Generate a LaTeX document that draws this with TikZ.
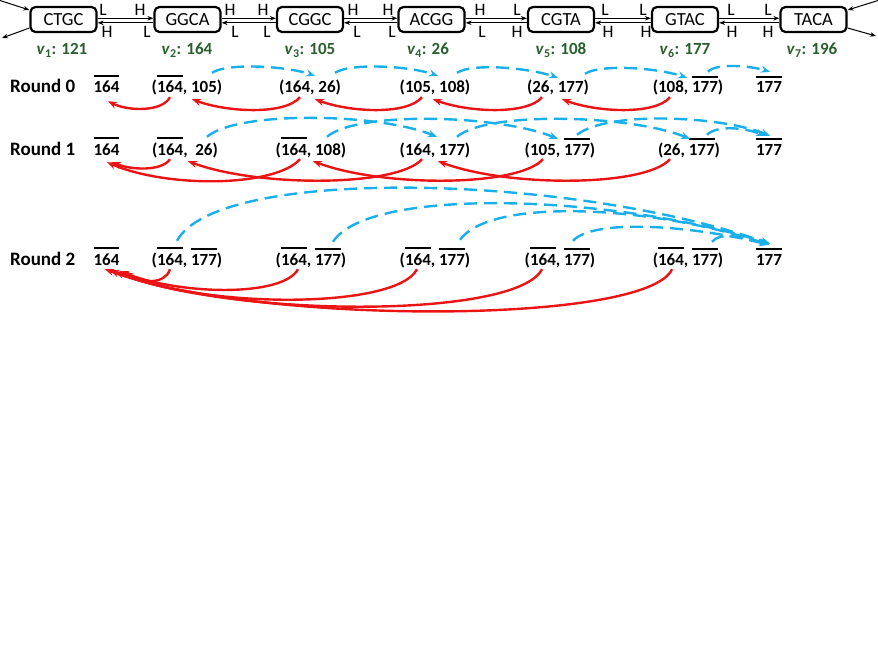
\documentclass[tikz,border=0pt]{standalone}
\usepackage{fontspec}
\setmainfont{Carlito}
\usetikzlibrary{arrows.meta,calc}
\definecolor{arrred}{RGB}{235,20,20}
\definecolor{arrblue}{RGB}{25,175,235}
\definecolor{vgreen}{RGB}{40,95,45}
\newcommand{\ovl}[1]{\leavevmode\setbox0=\hbox{#1}\rlap{\raisebox{\dimexpr\ht0+4.3pt\relax}{\rule{\wd0}{1.9pt}}}\box0}
\begin{document}
\begin{tikzpicture}[x=1pt,y=-1pt,
  seqbox/.style={draw, line width=2.2pt, rounded corners=5pt, minimum width=66pt, minimum height=25pt, inner sep=0pt, font=\fontsize{18.5}{20}\selectfont},
  hl/.style={font=\fontsize{17.5}{19}\selectfont, inner sep=0pt, anchor=base},
  vlab/.style={font=\fontsize{17}{18}\selectfont\bfseries, text=vgreen, anchor=base, inner sep=0pt},
  roundlab/.style={font=\fontsize{19}{21}\selectfont\bfseries, anchor=base west, inner sep=0pt},
  val/.style={font=\fontsize{17}{19}\selectfont\bfseries, anchor=base, inner sep=0pt, text height=18pt, text depth=4pt},
  link/.style={line width=1pt, -{Stealth[length=6pt,width=4.5pt]}},
  redarr/.style={draw=arrred, line width=2.4pt, -{Stealth[length=9pt,width=7pt]}},
  bluearr/.style={draw=arrblue, line width=2.4pt, dash pattern=on 13pt off 7pt, -{Stealth[length=9pt,width=7pt]}}]
\useasboundingbox (0,0) rectangle (878,658);

% sequence boxes
\node[seqbox] (b1) at (63.5,19.5) {CTGC};
\node[seqbox] (b2) at (187.5,19.5) {GGCA};
\node[seqbox] (b3) at (310,19.5) {CGGC};
\node[seqbox] (b4) at (431.5,19.5) {ACGG};
\node[seqbox] (b5) at (561,19.5) {CGTA};
\node[seqbox] (b6) at (685,19.5) {GTAC};
\node[seqbox] (b7) at (813.5,19.5) {TACA};

% links between boxes
\foreach \a/\b in {b1/b2,b2/b3,b3/b4,b4/b5,b5/b6,b6/b7}{
  \draw[link] ($(\a.east)+(0,-1.2)$) -- ($(\b.west)+(0,-1.2)$);
  \draw[link] ($(\b.west)+(0,3.3)$) -- ($(\a.east)+(0,3.3)$);
}
% outer arrows
\coordinate (inTL) at (0,0.5);
\coordinate (outBL) at (2,38);
\coordinate (inTR) at (878,0.5);
\coordinate (outBR) at (876,36);
\draw[link] (inTL) -- ($(b1.west)+(0,-9.5)$);
\draw[link] ($(b1.west)+(0,8.5)$) -- (outBL);
\draw[link] (inTR) -- ($(b7.east)+(0,-9.5)$);
\draw[link] ($(b7.east)+(0,8.5)$) -- (outBR);

% H/L labels
\node[hl] (l1a) at (103,16) {L};   \node[hl] (l1b) at (140,16) {H};
\node[hl] (l1c) at (107,38) {H};   \node[hl] (l1d) at (147,38) {L};
\node[hl] (l2a) at (230,16) {H};   \node[hl] (l2b) at (263,16) {H};
\node[hl] (l2c) at (235,38) {L};   \node[hl] (l2d) at (267,38) {L};
\node[hl] (l3a) at (353,16) {H};   \node[hl] (l3b) at (388,16) {H};
\node[hl] (l3c) at (357,38) {L};   \node[hl] (l3d) at (392,38) {L};
\node[hl] (l4a) at (480,16) {H};   \node[hl] (l4b) at (517,16) {L};
\node[hl] (l4c) at (482,38) {L};   \node[hl] (l4d) at (517,38) {H};
\node[hl] (l5a) at (605,16) {L};   \node[hl] (l5b) at (643,16) {L};
\node[hl] (l5c) at (608,38) {H};   \node[hl] (l5d) at (646,38) {H};
\node[hl] (l6a) at (731,16) {L};   \node[hl] (l6b) at (768,16) {L};
\node[hl] (l6c) at (732,38) {H};   \node[hl] (l6d) at (768,38) {H};

% vertex labels
\node[vlab] (v1) at (62,55) {\textit{v}\textsubscript{1}: 121};
\node[vlab] (v2) at (187,55) {\textit{v}\textsubscript{2}: 164};
\node[vlab] (v3) at (310,55) {\textit{v}\textsubscript{3}: 105};
\node[vlab] (v4) at (428,55) {\textit{v}\textsubscript{4}: 26};
\node[vlab] (v5) at (561,55) {\textit{v}\textsubscript{5}: 108};
\node[vlab] (v6) at (685,55) {\textit{v}\textsubscript{6}: 177};
\node[vlab] (v7) at (812,55) {\textit{v}\textsubscript{7}: 196};

% round labels
\node[roundlab] (rl0) at (10,93) {Round 0};
\node[roundlab] (rl1) at (10,155) {Round 1};
\node[roundlab] (rl2) at (10,265) {Round 2};

% Round 0 values
\node[val] (a1) at (106.5,93) {\ovl{164}};
\node[val] (a2) at (187,93) {(\ovl{164}, 105)};
\node[val] (a3) at (310,93) {(164, 26)};
\node[val] (a4) at (435,93) {(105, 108)};
\node[val] (a5) at (558,93) {(26, 177)};
\node[val] (a6) at (688,93) {(108, \ovl{177})};
\node[val] (a7) at (769,93) {\ovl{177}};

% Round 1 values
\node[val] (p1) at (106.5,155) {\ovl{164}};
\node[val] (p2) at (185,155) {(\ovl{164},~~26)};
\node[val] (p3) at (311,155) {(\ovl{164}, 108)};
\node[val] (p4) at (435,155) {(164, 177)};
\node[val] (p5) at (560,155) {(105, \ovl{177})};
\node[val] (p6) at (689,155) {(26, \ovl{177})};
\node[val] (p7) at (769,155) {\ovl{177}};

% Round 2 values
\node[val] (q1) at (106.5,265) {\ovl{164}};
\node[val] (q2) at (187,265) {(\ovl{164}, \ovl{177})};
\node[val] (q3) at (311,265) {(\ovl{164}, \ovl{177})};
\node[val] (q4) at (435,265) {(\ovl{164}, \ovl{177})};
\node[val] (q5) at (560,265) {(\ovl{164}, \ovl{177})};
\node[val] (q6) at (688,265) {(\ovl{164}, \ovl{177})};
\node[val] (q7) at (769,265) {\ovl{177}};

% Round 0 arrows
\draw[redarr] ($(a2.south)+(-17,0)$) .. controls +(-8,15) and +(20,10) .. ($(a1.south)+(1.5,4)$);
\draw[redarr] ($(a3.south)+(-10,0)$) .. controls +(-15,18) and +(35,13) .. ($(a2.south)+(5,2)$);
\draw[redarr] ($(a4.south)+(-13,0)$) .. controls +(-15,18) and +(35,13) .. ($(a3.south)+(5,2)$);
\draw[redarr] ($(a5.south)+(-16,0)$) .. controls +(-15,18) and +(35,13) .. ($(a4.south)+(-2,2)$);
\draw[redarr] ($(a6.south)+(-18,0)$) .. controls +(-15,18) and +(35,13) .. ($(a5.south)+(4,2)$);
\draw[bluearr] ($(a2.north)+(25,-2)$) .. controls +(15,-10) and +(-30,-10) .. ($(a3.north)+(5,1)$);
\draw[bluearr] ($(a3.north)+(25,-2)$) .. controls +(15,-10) and +(-30,-10) .. ($(a4.north)+(3,1)$);
\draw[bluearr] ($(a4.north)+(22,-2)$) .. controls +(15,-10) and +(-30,-10) .. ($(a5.north)+(0,3)$);
\draw[bluearr] ($(a5.north)+(27,-1)$) .. controls +(15,-10) and +(-30,-10) .. ($(a6.north)+(-1,3)$);
\draw[bluearr] ($(a6.north)+(20,-3)$) .. controls +(8,-9) and +(-20,-6) .. ($(a7.north)+(1,-3)$);

% Round 1 arrows
\draw[redarr] ($(p2.south)+(-15,0)$) .. controls +(-8,12) and +(20,8) .. ($(p1.south)+(5.5,3)$);
\draw[redarr] ($(p3.south)+(-11,0)$) .. controls +(-25,28) and +(60,26) .. ($(p1.south)+(0.5,3)$);
\draw[redarr] ($(p4.south)+(-13,0)$) .. controls +(-25,28) and +(70,26) .. ($(p2.south)+(3,2)$);
\draw[redarr] ($(p5.south)+(-17,0)$) .. controls +(-25,28) and +(70,26) .. ($(p3.south)+(2,2)$);
\draw[redarr] ($(p6.south)+(-19,0)$) .. controls +(-25,28) and +(70,26) .. ($(p4.south)+(3,2)$);
\draw[bluearr] ($(p2.north)+(22,0)$) .. controls +(30,-26) and +(-60,-24) .. ($(p4.north)+(2,0)$);
\draw[bluearr] ($(p3.north)+(16,0)$) .. controls +(30,-26) and +(-60,-24) .. ($(p5.north)+(-2,2)$);
\draw[bluearr] ($(p4.north)+(22,0)$) .. controls +(30,-26) and +(-60,-24) .. ($(p6.north)+(1,2)$);
\draw[bluearr] ($(p5.north)+(17,-2)$) .. controls +(30,-24) and +(-50,-20) .. ($(p7.north)+(1,-1)$);
\draw[bluearr] ($(p6.north)+(18,-2)$) .. controls +(10,-10) and +(-20,-8) .. ($(p7.north)+(-4,-1)$);

% Round 2 arrows
\draw[redarr] ($(q2.south)+(-17,0)$) .. controls +(-5,16) and +(15,12) .. ($(q1.south)+(18.5,2)$);
\draw[redarr] ($(q3.south)+(-13,0)$) .. controls +(-15,28) and +(60,24) .. ($(q1.south)+(13.5,2)$);
\draw[redarr] ($(q4.south)+(-18,0)$) .. controls +(-20,40) and +(90,38) .. ($(q1.south)+(8.5,2)$);
\draw[redarr] ($(q5.south)+(-18,0)$) .. controls +(-25,50) and +(120,48) .. ($(q1.south)+(3.5,1)$);
\draw[redarr] ($(q6.south)+(-16,0)$) .. controls +(-25,56) and +(150,56) .. ($(q1.south)+(-1.5,0)$);
\draw[bluearr] ($(q2.north)+(-10,-6)$) .. controls +(40,-75) and +(-200,-70) .. ($(q7.north)+(1,-3)$);
\draw[bluearr] ($(q3.north)+(22,-5)$) .. controls +(35,-55) and +(-160,-50) .. ($(q7.north)+(1,-3)$);
\draw[bluearr] ($(q4.north)+(25,-7)$) .. controls +(30,-42) and +(-120,-40) .. ($(q7.north)+(0,-2)$);
\draw[bluearr] ($(q5.north)+(13,-6)$) .. controls +(20,-22) and +(-80,-20) .. ($(q7.north)+(0,-2)$);
\draw[bluearr] ($(q6.north)+(24,-5)$) .. controls +(8,-10) and +(-25,-8) .. ($(q7.north)+(-1,-2)$);
\end{tikzpicture}
\end{document}
